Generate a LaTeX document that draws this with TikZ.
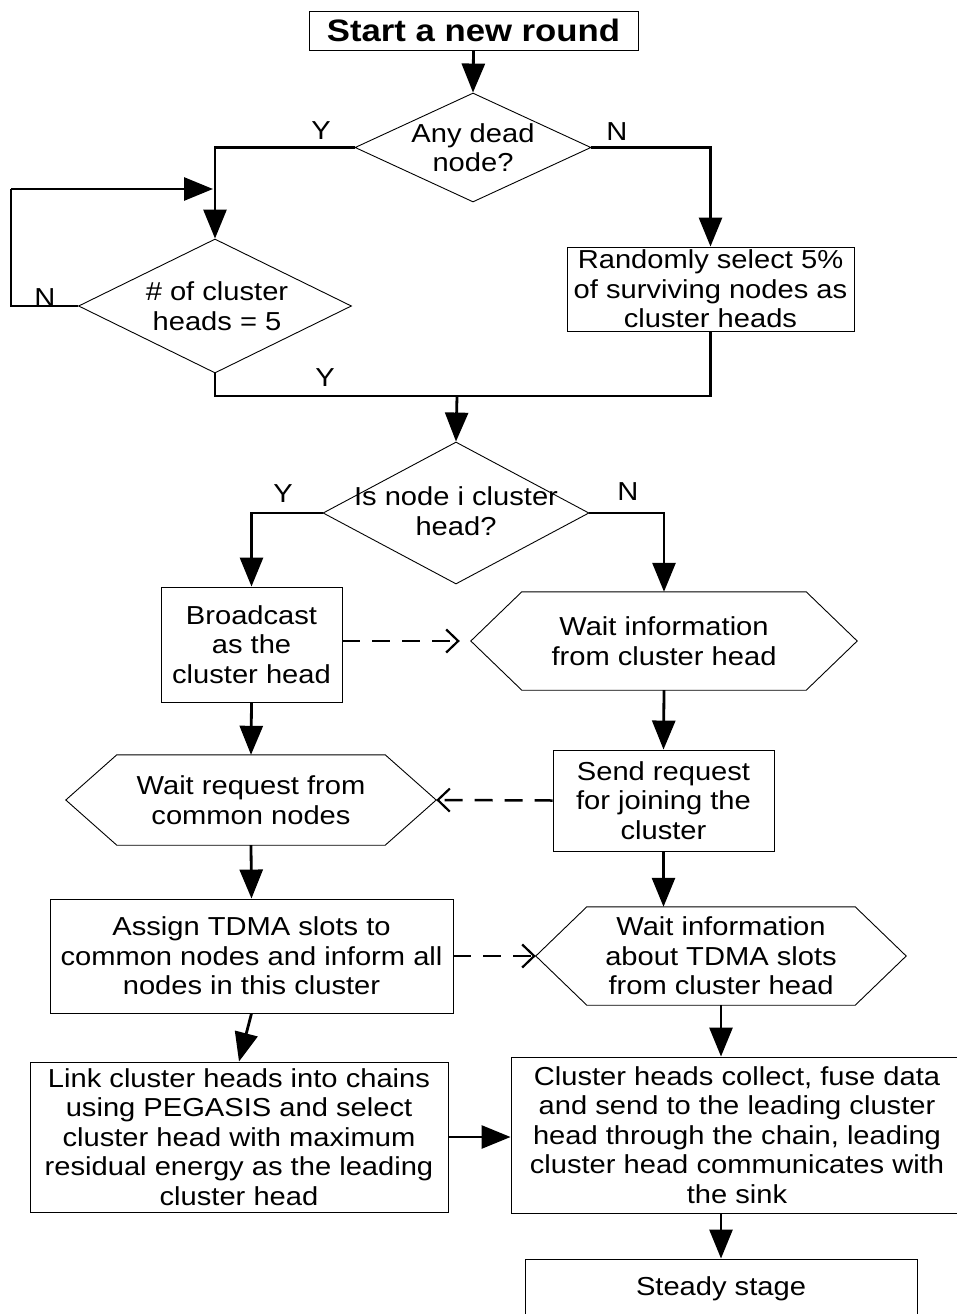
\documentclass[tikz,border=0pt]{standalone}
\usepackage{fontspec}
\setmainfont{Liberation Sans}[FakeStretch=1.12]
\usetikzlibrary{arrows.meta,shapes.geometric}
\tikzset{
  txt/.style={font=\fontsize{26}{29.5}\selectfont, align=center, inner sep=0pt},
  procbox/.style={txt, draw, line width=0.9pt, rectangle},
  hexbox/.style={txt, rectangle},
  decbox/.style={draw, line width=0.9pt, diamond, inner sep=0pt},
  hexline/.style={line width=0.9pt},
  conn/.style={line width=2.8pt, -{Triangle[length=29pt,width=23pt]}},
  plainline/.style={line width=2.8pt},
  dconn/.style={line width=2.5pt, dash pattern=on 18pt off 12pt, -{Straight Barb[length=12pt,width=23pt,line width=2.2pt]}},
  yn/.style={font=\fontsize{26}{29.5}\selectfont, inner sep=0pt}
}
\begin{document}
\begin{tikzpicture}[x=1pt,y=-1pt]
\useasboundingbox (0,0) rectangle (957,1314);
\clip (0,0) rectangle (957,1314);
\fill[white] (0,0) rectangle (957,1314);

% nodes
\node[procbox, minimum width=329pt, minimum height=39pt, font=\fontsize{31}{33}\selectfont\bfseries] (start) at (473.5,30.5) {Start a new round};

\node[decbox, minimum width=236pt, minimum height=109pt] (d1) at (473,147.5) {};
\node[txt] (d1t) at (d1.center) {Any dead\\node?};

\node[decbox, minimum width=273pt, minimum height=134pt] (d2) at (215,306) {};
\node[txt] (d2t) at (217,306) {\# of cluster\\heads = 5};

\node[procbox, minimum width=287pt, minimum height=84pt] (rand) at (710.5,289) {Randomly select 5\%\\of surviving nodes as\\cluster heads};

\coordinate (m) at (457,396);
\coordinate (lp) at (11,189);
\coordinate (j1) at (213,189);

\node[decbox, minimum width=266pt, minimum height=142pt] (d3) at (456,513) {};
\node[txt] (d3t) at (456,511) {Is node i cluster\\head?};

\node[procbox, minimum width=181pt, minimum height=115pt] (bc) at (251.5,644.5) {Broadcast\\as the\\cluster head};

\node[hexbox, minimum width=386pt, minimum height=98pt] (h1) at (664,641) {Wait information\\from cluster head};
\draw[hexline] (h1.west) -- ([xshift=51pt]h1.north west) -- ([xshift=-51pt]h1.north east) -- (h1.east) -- ([xshift=-51pt]h1.south east) -- ([xshift=51pt]h1.south west) -- cycle;

\node[procbox, minimum width=221pt, minimum height=101pt] (sr) at (663.5,800.5) {Send request\\for joining the\\cluster};

\node[hexbox, minimum width=370pt, minimum height=90pt] (h2) at (251,800) {Wait request from\\common nodes};
\draw[hexline] (h2.west) -- ([xshift=51pt]h2.north west) -- ([xshift=-51pt]h2.north east) -- (h2.east) -- ([xshift=-51pt]h2.south east) -- ([xshift=51pt]h2.south west) -- cycle;

\node[procbox, minimum width=403pt, minimum height=114pt] (as) at (251.5,956) {Assign TDMA slots to\\common nodes and inform all\\nodes in this cluster};

\node[hexbox, minimum width=370pt, minimum height=98pt] (h3) at (721,956) {Wait information\\about TDMA slots\\from cluster head};
\draw[hexline] (h3.west) -- ([xshift=51pt]h3.north west) -- ([xshift=-51pt]h3.north east) -- (h3.east) -- ([xshift=-51pt]h3.south east) -- ([xshift=51pt]h3.south west) -- cycle;

\node[procbox, minimum width=418pt, minimum height=150pt] (lk) at (239,1137) {Link cluster heads into chains\\using PEGASIS and select\\cluster head with maximum\\residual energy as the leading\\cluster head};

\node[procbox, minimum width=452pt, minimum height=156pt] (cl) at (737,1135) {Cluster heads collect, fuse data\\and send to the leading cluster\\head through the chain, leading\\cluster head communicates with\\the sink};

\node[procbox, minimum width=392pt, minimum height=60pt] (st) at (721,1289) {Steady stage};

% labels
\node[yn] (y1) at (321,131) {Y};
\node[yn] (n1) at (617,132) {N};
\node[yn] (n2) at (45,298) {N};
\node[yn] (y2) at (325,378) {Y};
\node[yn] (y3) at (283,494) {Y};
\node[yn] (n3) at (628,492) {N};

% connectors
\draw[conn] (start.south) -- (d1.north);
\draw[conn] (d1.west) -| (d2.north);
\draw[conn] (d1.east) -| (rand.north);
\draw[plainline] (d2.west) -| (lp);
\draw[conn] (lp) -- (j1);
\draw[plainline] (d2.south) |- (m);
\draw[plainline] (rand.south) |- (m);
\draw[conn] (m) -- (d3.north);
\draw[conn] (d3.west) -| (bc.north);
\draw[conn] (d3.east) -| (h1.north);
\draw[dconn, shorten >=11pt] (bc.east |- h1.west) -- (h1.west);
\draw[conn] (bc.south) -- (h2.north);
\draw[conn] (h1.south) -- (sr.north);
\draw[dconn] (sr.west) -- (h2.east);
\draw[conn] (h2.south) -- (as.north);
\draw[conn] (sr.south) -- (sr.south |- h3.north);
\draw[dconn] (as.east) -- (h3.west);
\draw[conn] (as.south) -- (lk.north);
\draw[conn] (h3.south) -- (h3.south |- cl.north);
\draw[conn] (lk.east) -- (lk.east -| cl.west);
\draw[conn] (st.north |- cl.south) -- (st.north);
\end{tikzpicture}
\end{document}
